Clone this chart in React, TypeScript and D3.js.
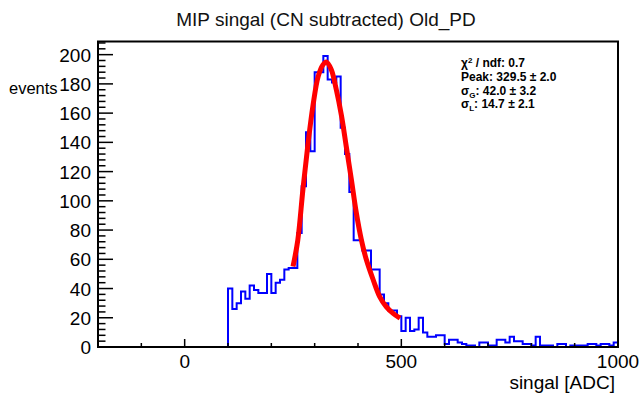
import React from 'react';
import * as d3 from 'd3';

// ---------- data ----------
const xDomain = [-200, 1000];
const yDomain = [0, 209];
const binWidth = 10;
const firstBin = 100; // lower edge of first non-empty bin
const counts = [
  40, 26, 30, 38, 33, 42, 39, 37, 37, 50, // 100-190
  37, 44, 46, 53, 54, 54, 78, 110, 147, 134, // 200-290
  188, 188, 199, 183, 181, 185, 150, 132, 106, 73, // 300-390
  73, 66, 66, 53, 53, 36, 30, 25, 25, 21, // 400-490
  11, 20, 11, 12, 20, 10, 7, 7, 8, 8, // 500-590
  2, 5, 5, 3, 2, 1, 1, 0, 3, 3, // 600-690
  1, 1, 5, 5, 3, 7, 4, 4, 2, 2, // 700-790
  1, 7, 1, 1, 1, 0, 2, 2, 0, 1, // 800-890
  1, 1, 1, 2, 2, 1, 2, 2, 1, 3, // 900-990
];
const fitX = [250, 261, 273, 285, 296, 308, 319, 327, 338, 350, 362, 373, 385, 396, 408, 419, 435, 450, 465, 481, 497];
const fitY = [55, 73, 108, 140, 165, 185, 193, 195, 190, 176, 158, 137, 114, 92, 73, 60, 46, 34.5, 27.6, 23, 19.7];
const yTickValues = [0, 20, 40, 60, 80, 100, 120, 140, 160, 180, 200];
const xTickValues = [0, 500, 1000];
const titleText = 'MIP singal (CN subtracted) Old_PD';
const xTitle = 'singal [ADC]';
const yTitle = 'events';

// ---------- layout ----------
const W = 641;
const H = 396;
const L = 98, R = 618, T = 41.5, B = 347;
const FONT = '"Liberation Sans", Arial, Helvetica, sans-serif';

export default function App() {
  const x = d3.scaleLinear().domain(xDomain).range([L, R]);
  const y = d3.scaleLinear().domain(yDomain).range([B, T]);

  const nLeading = (firstBin - xDomain[0]) / binWidth;
  const allCounts = d3.range(nLeading).map(() => 0).concat(counts);
  const pts: [number, number][] = allCounts.map((c, i) => [xDomain[0] + i * binWidth, c]);
  pts.push([xDomain[0] + allCounts.length * binWidth, allCounts[allCounts.length - 1]]);
  const histPath = d3.line<[number, number]>()
    .x(d => x(d[0]))
    .y(d => y(d[1]))
    .curve(d3.curveStepAfter)(pts) || '';

  const fitPts: [number, number][] = fitX.map((v, i) => [v, fitY[i]]);
  const fitPath = d3.line<[number, number]>()
    .x(d => x(d[0]))
    .y(d => y(d[1]))
    .curve(d3.curveCatmullRom.alpha(0.5))(fitPts) || '';

  const yMinor = d3.range(0, 209, 4);
  const xMinor = d3.range(-200, 1001, 100);

  return (
    <svg width={W} height={H} style={{ position: 'absolute', left: 0, top: 0, background: '#fff' }}
      fontFamily={FONT}>
      <rect x={0} y={0} width={W} height={H} fill="#fff" />
      <text x={326} y={26} textAnchor="middle" fontSize={19} fill="#111">{titleText}</text>

      <path d={histPath} fill="none" stroke="#0000ff" strokeWidth={2} />
      <path d={fitPath} fill="none" stroke="#ff0000" strokeWidth={5} strokeLinejoin="round" />

      {yMinor.map(v => (
        <line key={'ym' + v} x1={L} x2={L + (v % 20 === 0 ? 15 : 7.5)} y1={y(v)} y2={y(v)} stroke="#000" strokeWidth={1.5} />
      ))}
      {yTickValues.map(v => (
        <text key={'yl' + v} x={L - 7} y={y(v) + 7} textAnchor="end" fontSize={19} fill="#000">{v}</text>
      ))}
      {xMinor.map(v => (
        <line key={'xm' + v} x1={x(v)} x2={x(v)} y1={B} y2={B - (v % 500 === 0 ? 8 : 4)} stroke="#000" strokeWidth={1.5} />
      ))}
      {xTickValues.map(v => (
        <text key={'xl' + v} x={x(v)} y={368} textAnchor="middle" fontSize={19} fill="#000">{v}</text>
      ))}

      <rect x={L} y={T} width={R - L} height={B - T} fill="none" stroke="#000" strokeWidth={2} />

      <text x={615} y={389} textAnchor="end" fontSize={19} fill="#000">{xTitle}</text>
      <text x={9} y={94} textAnchor="start" fontSize={16.5} fill="#000">{yTitle}</text>

      <g fontSize={12} fontWeight="bold" fill="#000">
        <text x={461} y={67}>χ<tspan fontSize={8} dy={-4.5}>2</tspan><tspan dy={4.5}> / ndf: 0.7</tspan></text>
        <text x={461} y={81}>Peak: 329.5 ± 2.0</text>
        <text x={461} y={94.5}>σ<tspan fontSize={8} dy={3}>G</tspan><tspan dy={-3}>: 42.0 ± 3.2</tspan></text>
        <text x={461} y={107.5}>σ<tspan fontSize={8} dy={3}>L</tspan><tspan dy={-3}>: 14.7 ± 2.1</tspan></text>
      </g>
    </svg>
  );
}
